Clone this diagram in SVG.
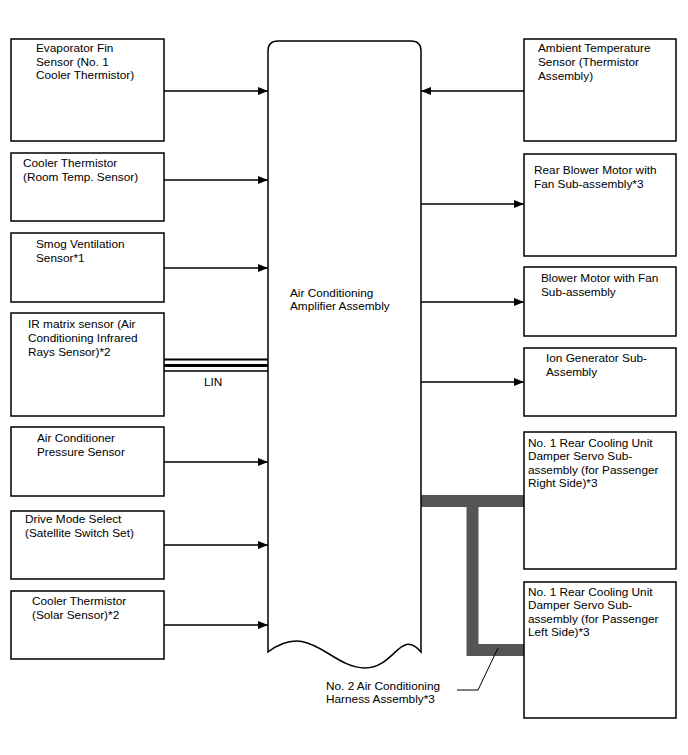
<svg xmlns="http://www.w3.org/2000/svg" width="688" height="755" viewBox="0 0 688 755">
<style>
.box{fill:#fff;stroke:#000;stroke-width:1.5}
.t{font-family:"Liberation Sans",Arial,sans-serif;font-size:11.8px;fill:#000}
.c{stroke:#000;stroke-width:1.3;fill:none}
.h{stroke:#555;stroke-width:12;fill:none}
</style>
<defs>
<marker id="ah" viewBox="0 0 10 8" refX="10" refY="4" markerWidth="10" markerHeight="8" markerUnits="userSpaceOnUse" orient="auto">
<path d="M0,0 L10,4 L0,8 z" fill="#000"/>
</marker>
</defs>
<rect width="688" height="755" fill="#fff"/>
<g id="connectors">
<line class="c" x1="164" y1="91" x2="268" y2="91" marker-end="url(#ah)"/>
<line class="c" x1="164" y1="180" x2="268" y2="180" marker-end="url(#ah)"/>
<line class="c" x1="164" y1="268" x2="268" y2="268" marker-end="url(#ah)"/>
<line class="c" x1="164" y1="462" x2="268" y2="462" marker-end="url(#ah)"/>
<line class="c" x1="164" y1="545" x2="268" y2="545" marker-end="url(#ah)"/>
<line class="c" x1="164" y1="625" x2="268" y2="625" marker-end="url(#ah)"/>
<line class="c" x1="524" y1="91" x2="421" y2="91" marker-end="url(#ah)"/>
<line class="c" x1="421" y1="204" x2="524" y2="204" marker-end="url(#ah)"/>
<line class="c" x1="421" y1="302" x2="524" y2="302" marker-end="url(#ah)"/>
<line class="c" x1="421" y1="382" x2="524" y2="382" marker-end="url(#ah)"/>
<g id="lin">
<line x1="164" y1="359.5" x2="268" y2="359.5" stroke="#000" stroke-width="2.2"/>
<line x1="164" y1="365.5" x2="268" y2="365.5" stroke="#000" stroke-width="3"/>
<line x1="164" y1="371" x2="268" y2="371" stroke="#000" stroke-width="1.6"/>
<text class="t" x="204" y="386">LIN</text>
</g>
<g id="harness">
<path class="h" d="M421,501 H524 M472.5,501 V650 H524"/>
<path d="M498,648 L478,690 H457" fill="none" stroke="#000" stroke-width="1"/>
</g>
</g>
<g id="n_evap"><rect class="box" x="11" y="39" width="153" height="102"/>
<text class="t" x="36" y="52">Evaporator Fin</text><text class="t" x="36" y="66">Sensor (No. 1</text><text class="t" x="36" y="79">Cooler Thermistor)</text></g>
<g id="n_room"><rect class="box" x="11" y="153" width="153" height="68"/>
<text class="t" x="23" y="167">Cooler Thermistor</text><text class="t" x="23" y="181">(Room Temp. Sensor)</text></g>
<g id="n_smog"><rect class="box" x="11" y="233" width="153" height="69"/>
<text class="t" x="36" y="248">Smog Ventilation</text><text class="t" x="36" y="262">Sensor*1</text></g>
<g id="n_ir"><rect class="box" x="11" y="313" width="153" height="103"/>
<text class="t" x="28" y="328">IR matrix sensor (Air</text><text class="t" x="28" y="342">Conditioning Infrared</text><text class="t" x="28" y="356">Rays Sensor)*2</text></g>
<g id="n_press"><rect class="box" x="11" y="427" width="153" height="69"/>
<text class="t" x="37" y="442">Air Conditioner</text><text class="t" x="37" y="456">Pressure Sensor</text></g>
<g id="n_drive"><rect class="box" x="11" y="511" width="153" height="68"/>
<text class="t" x="25" y="523">Drive Mode Select</text><text class="t" x="25" y="537">(Satellite Switch Set)</text></g>
<g id="n_solar"><rect class="box" x="11" y="591" width="153" height="68"/>
<text class="t" x="32" y="605">Cooler Thermistor</text><text class="t" x="32" y="619">(Solar Sensor)*2</text></g>
<g id="n_amp">
<path class="box" d="M268,652 V51 Q268,41 278,41 H411 Q421,41 421,51 V652 C400,628 395,668 365,668 C330,668 310,620 268,652 Z"/>
<text class="t" x="290" y="297">Air Conditioning</text><text class="t" x="290" y="310">Amplifier Assembly</text></g>
<g id="n_amb"><rect class="box" x="524" y="39" width="152" height="102"/>
<text class="t" x="538" y="52">Ambient Temperature</text><text class="t" x="538" y="66">Sensor (Thermistor</text><text class="t" x="538" y="80">Assembly)</text></g>
<g id="n_rear"><rect class="box" x="524" y="154" width="152" height="102"/>
<text class="t" x="534" y="174">Rear Blower Motor with</text><text class="t" x="534" y="188">Fan Sub-assembly*3</text></g>
<g id="n_blower"><rect class="box" x="524" y="267" width="152" height="69"/>
<text class="t" x="541" y="282">Blower Motor with Fan</text><text class="t" x="541" y="296">Sub-assembly</text></g>
<g id="n_ion"><rect class="box" x="524" y="348" width="152" height="68"/>
<text class="t" x="546" y="362">Ion Generator Sub-</text><text class="t" x="546" y="376">Assembly</text></g>
<g id="n_right"><rect class="box" x="524" y="432" width="152" height="137"/>
<text class="t" x="528" y="447">No. 1 Rear Cooling Unit</text><text class="t" x="528" y="460">Damper Servo Sub-</text><text class="t" x="528" y="474">assembly (for Passenger</text><text class="t" x="528" y="487">Right Side)*3</text></g>
<g id="n_left"><rect class="box" x="524" y="582" width="152" height="136"/>
<text class="t" x="528" y="596">No. 1 Rear Cooling Unit</text><text class="t" x="528" y="609">Damper Servo Sub-</text><text class="t" x="528" y="623">assembly (for Passenger</text><text class="t" x="528" y="636">Left Side)*3</text></g>
<g id="l_harness"><text class="t" x="326" y="690">No. 2 Air Conditioning</text><text class="t" x="326" y="703">Harness Assembly*3</text></g>
</svg>
